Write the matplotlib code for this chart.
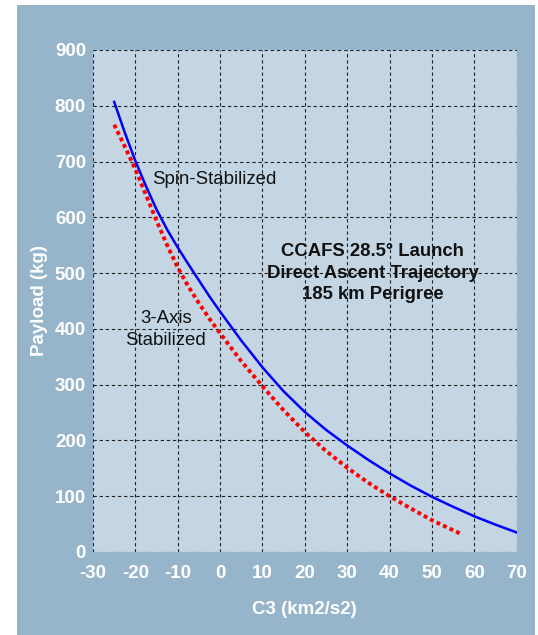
import matplotlib
matplotlib.use("Agg")
import matplotlib.pyplot as plt
from matplotlib.patches import Rectangle

plt.rcParams['font.family'] = ['Liberation Sans', 'DejaVu Sans']

# Data
spin_c3 = [-25, -22.5, -20, -17.5, -15, -12.5, -10, -7.5, -5, -2.5, 0, 5, 10, 15, 20,
           25, 30, 35, 40, 45, 50, 55, 60, 65, 70]
spin_payload = [807, 752, 701, 656, 614, 578, 546, 516, 487, 458, 431, 379, 331, 288, 251,
                219, 191, 165, 141, 119, 99, 81, 64, 49, 35]

axis3_c3 = [-25, -22.5, -20, -17.5, -15, -12.5, -10, -7.5, -5, -2.5, 0, 5, 10, 15, 20,
            25, 30, 35, 40, 45, 50, 55, 57]
axis3_payload = [766, 727, 686, 640, 594, 550, 510, 476, 446, 418, 392, 342, 297, 254, 215,
                 181, 151, 124, 100, 78, 57, 39, 32]

x_ticks = [-30, -20, -10, 0, 10, 20, 30, 40, 50, 60, 70]
y_ticks = [0, 100, 200, 300, 400, 500, 600, 700, 800, 900]

W, H = 538, 635
fig = plt.figure(figsize=(W / 100, H / 100), dpi=100)
fig.patch.set_facecolor('white')
bg = Rectangle((17 / W, 0), (535 - 17) / W, (635 - 5) / H,
               transform=fig.transFigure, facecolor='#97b5ca',
               edgecolor='none', zorder=-10)
fig.patches.append(bg)

ax = fig.add_axes([93 / W, (H - 552) / H, (516.7 - 93) / W, (552 - 50) / H])
ax.set_zorder(5)
ax.set_facecolor('#c4d6e4')
ax.set_xlim(-30, 70)
ax.set_ylim(0, 900)
ax.set_xticks(x_ticks)
ax.set_yticks(y_ticks)
ax.set_xticklabels([str(v) for v in x_ticks])
ax.set_yticklabels([str(v) for v in y_ticks])
for s in ax.spines.values():
    s.set_visible(False)
ax.tick_params(length=0, colors='white', labelsize=13.5)
ax.tick_params(axis='x', pad=9)
ax.tick_params(axis='y', pad=5)
for lbl in ax.get_xticklabels() + ax.get_yticklabels():
    lbl.set_fontweight('bold')
ax.grid(True, color='#222222', linestyle=(0, (3, 2.5)), linewidth=0.8)
ax.set_axisbelow(True)

ax.plot(spin_c3, spin_payload, color='#0000ff', linewidth=1.8, zorder=3,
        solid_joinstyle='round')
ax.plot(axis3_c3, axis3_payload, color='#ff0000', linewidth=2.8,
        linestyle=(0, (1, 0.85)), dash_capstyle='butt', zorder=3)

ax.set_xlabel('C3 (km2/s2)', color='white', fontsize=13.5, fontweight='bold', labelpad=14)
ax.set_ylabel('Payload (kg)', color='white', fontsize=13.5, fontweight='bold', labelpad=5)

ax.text(-1.4, 668, 'Spin-Stabilized', fontsize=13.4, ha='center', va='center', color='#111111')
ax.text(-12.8, 419, '3-Axis', fontsize=13.4, ha='center', va='center', color='#111111')
ax.text(-12.8, 380, 'Stabilized', fontsize=13.4, ha='center', va='center', color='#111111')
ax.text(36, 538, 'CCAFS 28.5° Launch', fontsize=13.3, fontweight='bold', ha='center', va='center', color='#111111')
ax.text(36, 499.5, 'Direct Ascent Trajectory', fontsize=13.3, fontweight='bold', ha='center', va='center', color='#111111')
ax.text(36, 461, '185 km Perigree', fontsize=13.3, fontweight='bold', ha='center', va='center', color='#111111')

fig.savefig('out.png', dpi=100)
